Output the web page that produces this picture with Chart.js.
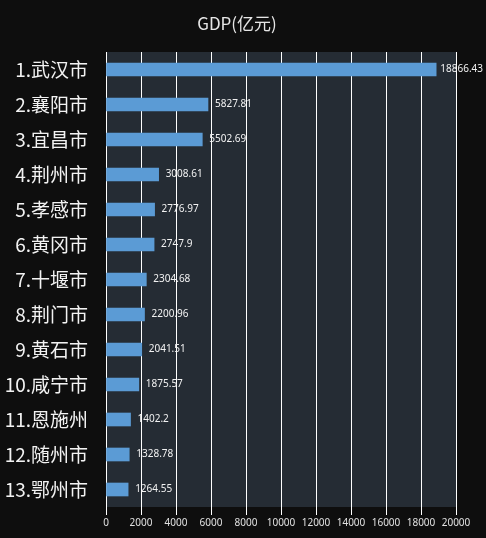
<!DOCTYPE html>
<html>
<head>
<meta charset="utf-8">
<script src="https://cdn.jsdelivr.net/npm/chart.js@4/dist/chart.umd.min.js"></script>
<style>
html,body{margin:0;padding:0;background:#0e0e0e;}
#c{display:block;}
</style>
</head>
<body>
<canvas id="c" width="486" height="538"></canvas>
<script>
const categories = ["1.武汉市","2.襄阳市","3.宜昌市","4.荆州市","5.孝感市","6.黄冈市","7.十堰市","8.荆门市","9.黄石市","10.咸宁市","11.恩施州","12.随州市","13.鄂州市"];
const gdpValues = [18866.43,5827.81,5502.69,3008.61,2776.97,2747.9,2304.68,2200.96,2041.51,1875.57,1402.2,1328.78,1264.55];
const valueLabels = ["18866.43","5827.81","5502.69","3008.61","2776.97","2747.9","2304.68","2200.96","2041.51","1875.57","1402.2","1328.78","1264.55"];
const xTicks = [0,2000,4000,6000,8000,10000,12000,14000,16000,18000,20000];
const chartTitle = "GDP(亿元)";

const bgPlugin = {
  id: 'bg',
  beforeDraw(chart) {
    const {ctx, chartArea: a} = chart;
    ctx.save();
    ctx.fillStyle = '#0e0e0e';
    ctx.fillRect(0, 0, chart.width, chart.height);
    ctx.fillStyle = '#252c34';
    ctx.fillRect(a.left, a.top, a.right - a.left, a.bottom - a.top);
    ctx.restore();
  },
  afterDraw(chart) {
    const ctx = chart.ctx;
    ctx.save();
    ctx.font = '17px "Noto Sans CJK SC", "Noto Sans"';
    ctx.fillStyle = '#e6e6e6';
    ctx.textAlign = 'center';
    ctx.textBaseline = 'middle';
    ctx.fillText(chartTitle, 237, 24);
    ctx.restore();
  }
};

const labelPlugin = {
  id: 'vlabels',
  afterDatasetsDraw(chart) {
    const {ctx} = chart;
    const meta = chart.getDatasetMeta(0);
    ctx.save();
    ctx.font = '10px "Noto Sans"';
    ctx.fillStyle = '#f2f2f2';
    ctx.textBaseline = 'middle';
    ctx.textAlign = 'left';
    meta.data.forEach((bar, i) => {
      const t = valueLabels[i];
      const w = ctx.measureText(t).width;
      let x = bar.x + 7;
      x = Math.min(x, chart.width - w - 3);
      ctx.fillText(t, x, bar.y);
    });
    ctx.restore();
  }
};

new Chart(document.getElementById('c'), {
  type: 'bar',
  data: {
    labels: categories,
    datasets: [{
      data: gdpValues,
      backgroundColor: '#5b9bd5',
      barThickness: 13
    }]
  },
  options: {
    indexAxis: 'y',
    responsive: false,
    animation: false,
    layout: { padding: { top: 52, right: 30, left: 0, bottom: 0 } },
    plugins: {
      legend: { display: false },
      tooltip: { enabled: false },
      title: { display: false }
    },
    scales: {
      x: {
        min: 0,
        max: 20000,
        afterBuildTicks(scale) { scale.ticks = xTicks.map(v => ({value: v})); },
        afterFit(scale) { scale.height = 31; },
        grid: { color: '#ffffff', lineWidth: 1, drawTicks: true, tickLength: 8, tickColor: '#ffffff' },
        border: { display: false },
        ticks: {
          color: '#e0e0e0',
          font: { size: 10, family: '"Noto Sans"' },
          padding: 2,
          maxRotation: 0,
          autoSkip: false,
          callback: (v) => String(v)
        }
      },
      y: {
        afterFit(scale) { scale.width = 106; },
        grid: { display: false, drawTicks: false },
        border: { display: false },
        ticks: {
          color: '#f2f2f2',
          font: { size: 19, family: '"Noto Sans CJK SC"' },
          padding: 18,
          autoSkip: false
        }
      }
    }
  },
  plugins: [bgPlugin, labelPlugin]
});
</script>
</body>
</html>
